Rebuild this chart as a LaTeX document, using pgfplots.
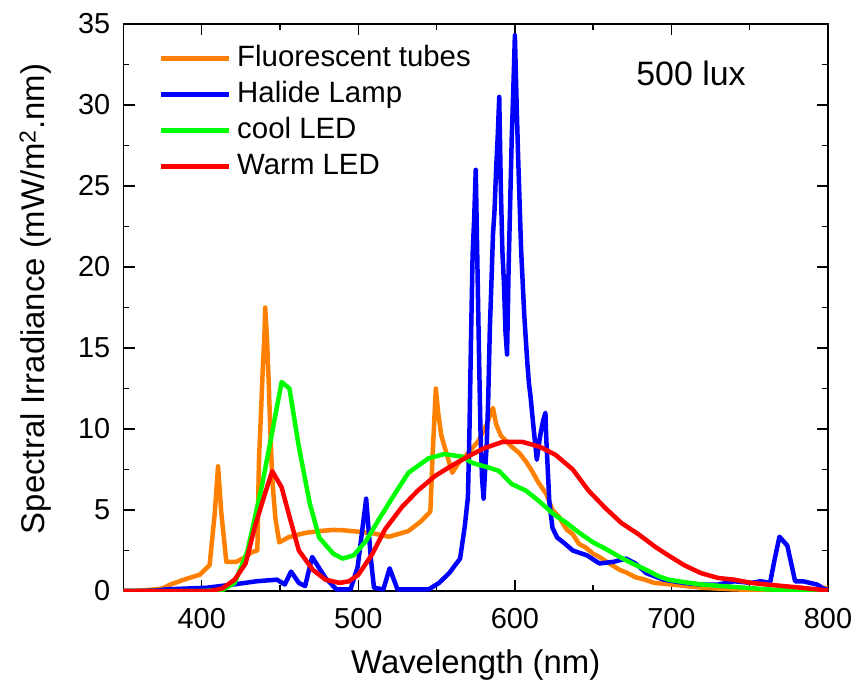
\documentclass[border=0pt]{standalone}
\usepackage{pgfplots}
\pgfplotsset{compat=1.18}
\usepackage{fontspec}
\setmainfont{Liberation Sans}
\definecolor{corange}{RGB}{255,128,0}
\definecolor{cblue}{RGB}{0,0,255}
\definecolor{cgreen}{RGB}{0,255,0}
\definecolor{cred}{RGB}{255,0,0}
\begin{document}
\begin{tikzpicture}
\begin{axis}[name=ax,
  scale only axis, width=704.5bp, height=567bp,
  xmin=350, xmax=800, ymin=0, ymax=35,
  xtick={400,500,600,700,800}, ytick={0,5,10,15,20,25,30,35},
  xticklabels={400,500,600,700,800}, yticklabels={0,5,10,15,20,25,30,35},
  minor xtick={450,550,650,750}, minor ytick={2.5,7.5,12.5,17.5,22.5,27.5,32.5},
  tick align=inside,
  major tick length=11bp, minor tick length=6bp,
  tick style={black, line width=1.4bp},
  every axis/.append style={line width=1.4bp},
  tick label style={font=\fontsize{29}{34}\selectfont, line width=0.4pt},
  xticklabel style={anchor=north, inner sep=0pt, yshift=-17bp},
  yticklabel style={anchor=east, inner sep=0pt, xshift=-13bp},
  xlabel={Wavelength (nm)},
  xlabel style={at={(axis description cs:0.5,0)}, anchor=base, yshift=-82bp, inner sep=0pt, font=\fontsize{33}{40}\selectfont},
  ylabel={Spectral Irradiance (mW/m\textsuperscript{2}.nm)},
  ylabel style={at={(axis description cs:-0.1249,0.515)}, anchor=center, inner sep=0pt, font=\fontsize{33}{40}\selectfont},
  legend image code/.code={\draw[#1] (0bp,0bp) -- (68bp,0bp);},
  legend style={at={(axis description cs:0.049,0.9647)}, anchor=north west, draw=none, fill=none, inner sep=0pt,
    row sep=8.5bp, column sep=6bp, font=\fontsize{29.5}{35}\selectfont,
    nodes={inner sep=0pt, text height=21.5bp, text depth=6bp}},
  legend cell align=left,
]
\addplot[corange, line width=4.5bp, line join=round] coordinates {
(350,0) (360,0.02) (370,0.1) (375,0.16) (380,0.4) (388,0.68) (395,0.9) (398.7,1.0) (405,1.6) (408.3,4.8) (410.4,7.7)
(412.5,4.8) (415.7,1.8) (422,1.8) (428,2.1) (432,2.4) (435.5,2.5) (436.5,8.0) (438,11.4) (439,13.8) (440,15.7) (440.5,17.5)
(441.6,15.7) (442.7,13.0) (443.8,9.9) (445,6.9) (447,4.5) (449.5,3.0) (455,3.3) (460,3.45) (467,3.6) (475,3.7) (484,3.77)
(490,3.75) (500,3.66) (510,3.55) (519.6,3.35) (525,3.5) (532,3.7) (540,4.3) (546,4.9) (547.5,8.5) (549.5,12.5) (551,11)
(553,9.6) (556,8.6) (560,7.3) (564,7.9) (571,8.6) (577,9.3) (582,10.3) (586,11.3) (588,10.3) (591,9.6) (594,9.3) (598,8.9)
(603,8.5) (607,8.0) (611,7.4) (615,6.7) (620,6.0) (624,5.0) (628,4.6) (633,3.8) (637,3.5) (641,2.9) (645,2.7) (650,2.3)
(654,2.1) (658.6,1.8) (662,1.6) (667,1.3) (671,1.15) (677,0.85) (683,0.7) (689,0.5) (695,0.45) (700,0.4) (710,0.3)
(720,0.2) (740,0.1) (760,0.05) (780,0.05) (790,0.1) (800,0.2)
};
\addlegendentry{Fluorescent tubes}
\addplot[cblue, line width=4.5bp, line join=round] coordinates {
(350,0) (370,0.02) (377,0.1) (390,0.15) (403,0.2) (420,0.4) (435,0.6) (448,0.7) (453,0.4) (457,1.2) (462,0.5) (466,0.3)
(470.5,2.1) (479,0.8) (486,0.1) (495,0.1) (499.6,1.5) (505,5.7) (508,2.0) (510,0.2) (516,0.1) (520,1.4) (525,0.1)
(545,0.1) (551.6,0.5) (558,1.1) (565,2.0) (568,4.0) (570,5.8) (571,10) (572,15.7) (573,20.8) (574,23) (575,26.0)
(576,20.5) (577,15) (578,10) (579,7) (580,5.7) (581,7.5) (582,9) (583,12) (584,16.2) (585,19) (586,22) (587,23.5)
(588,26) (589,28) (590,30.5) (591,25) (592,21) (593,19) (594,16) (595,14.6) (596,20) (597,24) (598,28) (599,31)
(600,34.3) (601,30.5) (602,27) (603,24) (604,21) (605,19) (606,17) (607,15.5) (608,14) (609,12.8) (610,12) (612,10)
(614,8.1) (616,9.5) (618,10.5) (619.5,11.0) (620,9.5) (621,7.5) (622,5.5) (624,3.9) (627,3.3) (631,3.0) (637,2.5)
(646,2.2) (654,1.7) (663,1.8) (671,2.0) (677,1.7) (684,1.1) (695,0.7) (708,0.5) (719,0.4) (730,0.4) (740,0.6)
(751,0.5) (757,0.6) (763,0.5) (766,2.0) (769,3.35) (774,2.8) (779,0.6) (784,0.6) (793,0.4) (798,0.1) (800,0.1)
};
\addlegendentry{Halide Lamp}
\addplot[cgreen, line width=4.5bp, line join=round] coordinates {
(350,0) (400,0) (413,0.05) (421,0.5) (429,2.4) (438,6.3) (444,9.3) (451,12.9) (456,12.5) (462,8.9) (469,5.4) (475,3.3)
(484,2.3) (490,2.0) (497,2.2) (505,3.1) (513,4.4) (522,5.8) (532,7.3) (545,8.2) (555,8.45) (566,8.3) (573,7.9)
(584,7.6) (590,7.4) (598,6.6) (607,6.2) (616,5.5) (624,4.8) (633,4.2) (641,3.6) (650,3.0) (658,2.6) (667,2.1)
(675,1.7) (684,1.3) (692,0.9) (698,0.7) (708,0.55) (719,0.4) (740,0.25) (761,0.1) (783,0.02) (800,0)
};
\addlegendentry{cool LED}
\addplot[cred, line width=4.5bp, line join=round] coordinates {
(350,0) (405,0) (413,0.15) (421,0.7) (428,1.7) (434,4.0) (441,6.2) (445,7.4) (451,6.4) (456,4.6) (462,2.5) (471,1.3)
(479,0.7) (488,0.5) (494,0.6) (500,1.0) (509,2.3) (517,3.8) (528,5.2) (538,6.2) (549,7.1) (559,7.7) (570,8.3)
(580,8.8) (592,9.2) (605,9.2) (616,8.9) (626,8.4) (637,7.5) (647,6.2) (658,5.1) (668,4.2) (679,3.5) (690,2.7)
(698,2.2) (708,1.6) (719,1.1) (730,0.8) (740,0.7) (751,0.5) (761,0.4) (772,0.3) (783,0.2) (798,0.05) (800,0.05)
};
\addlegendentry{Warm LED}
\node[anchor=base, inner sep=0pt, font=\fontsize{34}{40}\selectfont] at (axis cs:712.5,31.2) {500 lux};
\end{axis}
\path ([shift={(-123.5bp,-95bp)}]ax.south west) rectangle ++(859bp,686bp);
\end{tikzpicture}
\end{document}
